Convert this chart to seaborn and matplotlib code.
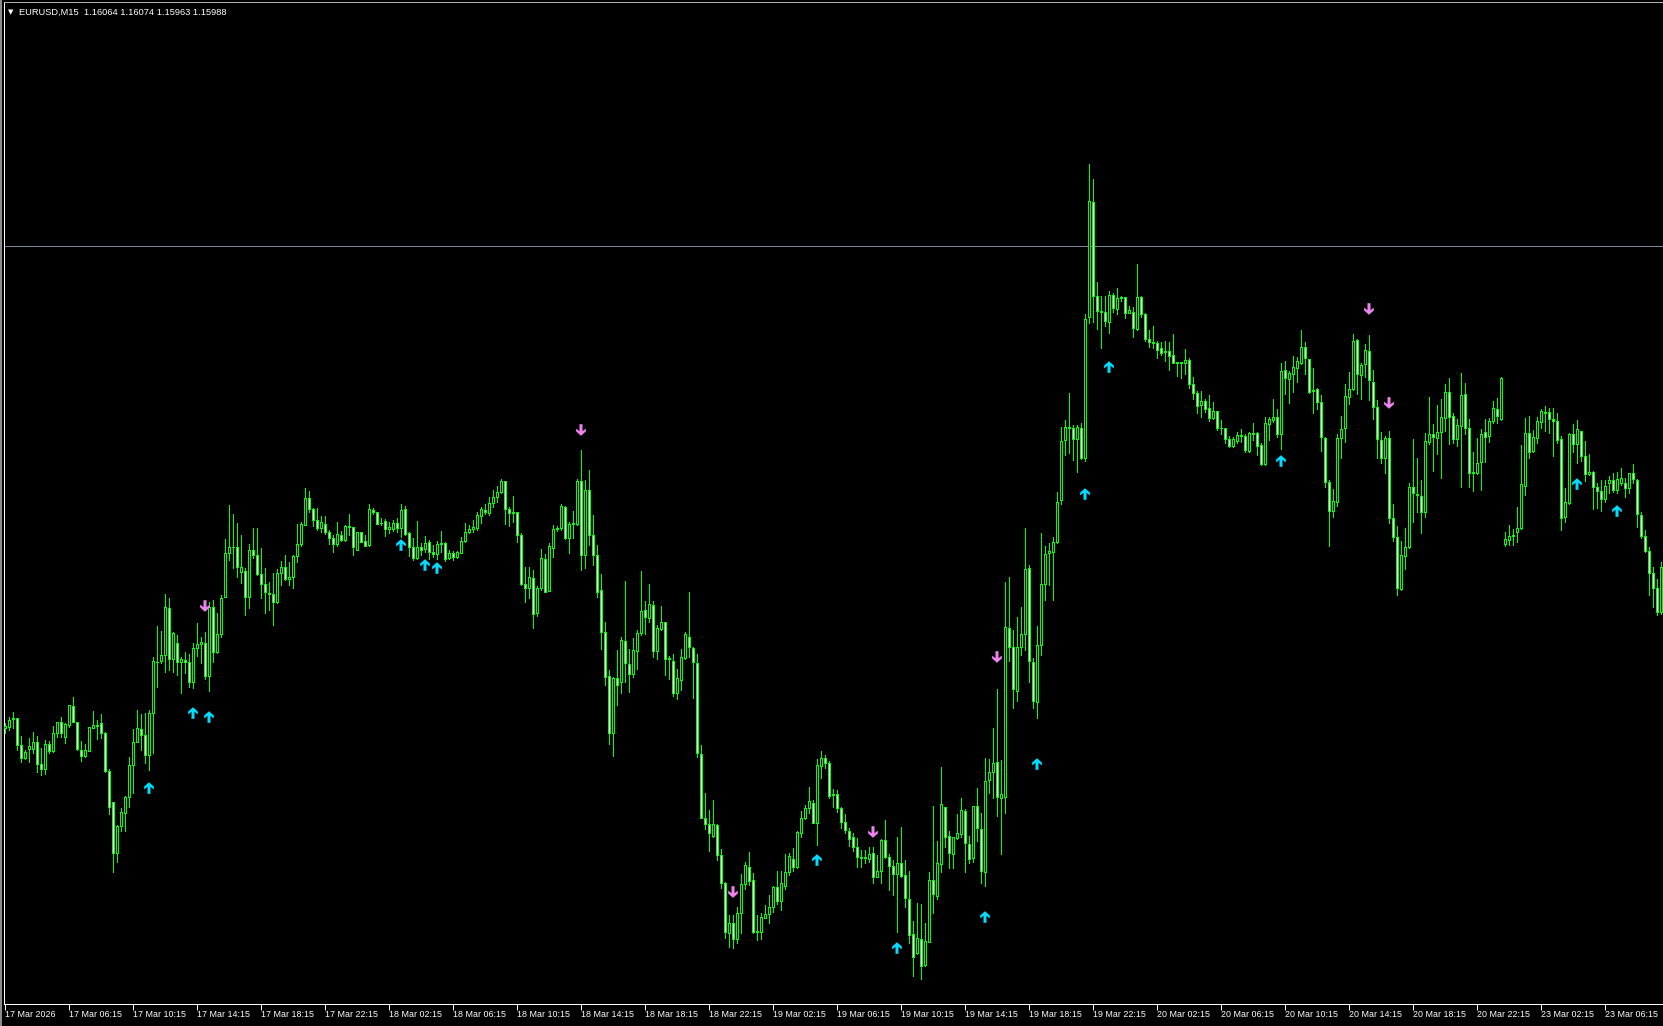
import numpy as np
import pandas as pd
import matplotlib
matplotlib.use("Agg")
import matplotlib.pyplot as plt
from matplotlib.path import Path
from matplotlib.lines import Line2D
import seaborn as sns

# Chart header
symbol = "EURUSD,M15"
header_ohlc = ["1.16064", "1.16074", "1.15963", "1.15988"]
bid_price = 1.15988

# M15 candles, prices in points (1 point = 0.00001)
opens = [
    114541, 114546, 114568, 114571, 114491, 114453, 114478, 114478, 114499, 114433,
    114418, 114493, 114474, 114526, 114559, 114514, 114551, 114608, 114561, 114476,
    114459, 114474, 114543, 114551, 114556, 114526, 114414, 114319, 114166, 114248,
    114288, 114334, 114430, 114501, 114538, 114521, 114460, 114586, 114741, 114743,
    114761, 114901, 114748, 114796, 114739, 114746, 114739, 114681, 114783, 114793,
    114798, 114699, 114904, 114769, 114823, 114936, 115066, 115084, 115086, 115011,
    115013, 114936, 115076, 115061, 115004, 114973, 114948, 114944, 114921, 115006,
    115024, 114988, 114994, 115058, 115094, 115151, 115231, 115199, 115166, 115141,
    115153, 115131, 115113, 115095, 115121, 115106, 115149, 115145, 115076, 115129,
    115103, 115091, 115196, 115189, 115156, 115163, 115139, 115139, 115156, 115141,
    115198, 115126, 115085, 115051, 115084, 115079, 115099, 115071, 115063, 115094,
    115098, 115053, 115068, 115056, 115068, 115104, 115129, 115139, 115143, 115179,
    115195, 115188, 115216, 115234, 115249, 115283, 115199, 115188, 115189, 115121,
    114974, 114963, 114991, 114886, 114963, 115049, 114954, 115083, 115138, 115141,
    115206, 115113, 115154, 115153, 115283, 115061, 115256, 115121, 115061, 114956,
    114831, 114698, 114526, 114691, 114681, 114803, 114733, 114703, 114774, 114826,
    114896, 114871, 114911, 114774, 114838, 114859, 114749, 114743, 114648, 114686,
    114751, 114816, 114781, 114736, 114463, 114271, 114253, 114218, 114251, 114161,
    114076, 113928, 113956, 113909, 113986, 114074, 114124, 114086, 113931, 113931,
    113973, 113983, 114004, 114064, 114024, 114069, 114111, 114148, 114124, 114226,
    114271, 114303, 114316, 114258, 114429, 114453, 114436, 114341, 114343, 114301,
    114261, 114233, 114214, 114186, 114154, 114152, 114148, 114166, 114096, 114114,
    114206, 114156, 114128, 114103, 114138, 114101, 114029, 113924, 113868, 113908,
    113831, 113901, 114086, 114039, 114133, 114304, 114218, 114163, 114211, 114223,
    114293, 114193, 114151, 114308, 114238, 114109, 114386, 114411, 114441, 114333,
    114336, 114841, 114785, 114653, 114786, 114825, 115022, 114739, 114619, 114792,
    114975, 115066, 115069, 115099, 115225, 115406, 115444, 115443, 115408, 115441,
    115352, 115776, 116119, 115839, 115792, 115791, 115761, 115841, 115799, 115831,
    115834, 115788, 115791, 115738, 115834, 115783, 115709, 115699, 115696, 115681,
    115671, 115673, 115661, 115636, 115639, 115636, 115646, 115573, 115548, 115511,
    115523, 115501, 115473, 115493, 115443, 115441, 115408, 115389, 115404, 115421,
    115418, 115373, 115426, 115426, 115391, 115334, 115453, 115466, 115474, 115423,
    115616, 115588, 115603, 115621, 115638, 115684, 115648, 115553, 115558, 115521,
    115413, 115281, 115193, 115219, 115411, 115441, 115534, 115559, 115706, 115601,
    115633, 115673, 115581, 115506, 115406, 115353, 115413, 115171, 115114, 114959,
    115059, 115084, 115264, 115244, 115239, 115189, 115401, 115424, 115413, 115431,
    115471, 115549, 115478, 115408, 115449, 115543, 115443, 115306, 115308, 115339,
    115429, 115418, 115464, 115500, 115469, 115093, 115106, 115118, 115131, 115141,
    115269, 115426, 115374, 115411, 115461, 115491, 115491, 115470, 115463, 115408,
    115176, 115216, 115423, 115393, 115434, 115359, 115303, 115311, 115266, 115253,
    115228, 115276, 115286, 115256, 115276, 115276, 115261, 115306, 115286, 115181,
    115119, 115074, 115006, 114961, 114891,
]
highs = [
    114556, 114576, 114591, 114571, 114518, 114476, 114511, 114531, 114518, 114481,
    114506, 114503, 114548, 114559, 114576, 114556, 114611, 114635, 114561, 114503,
    114494, 114546, 114593, 114566, 114584, 114531, 114418, 114319, 114251, 114301,
    114338, 114456, 114538, 114596, 114584, 114586, 114596, 114756, 114848, 114834,
    114943, 114933, 114829, 114821, 114756, 114771, 114763, 114796, 114856, 114816,
    114831, 114921, 114926, 114888, 114941, 115108, 115211, 115184, 115158, 115121,
    115021, 115093, 115141, 115141, 115083, 115023, 114981, 115006, 115019, 115043,
    115061, 115041, 115061, 115153, 115159, 115263, 115253, 115203, 115201, 115178,
    115178, 115136, 115121, 115161, 115133, 115151, 115184, 115145, 115131, 115131,
    115121, 115214, 115203, 115191, 115171, 115168, 115159, 115166, 115171, 115214,
    115208, 115131, 115111, 115163, 115098, 115118, 115106, 115091, 115103, 115133,
    115101, 115076, 115073, 115074, 115116, 115156, 115151, 115166, 115191, 115206,
    115213, 115236, 115256, 115269, 115289, 115283, 115206, 115238, 115191, 115126,
    115026, 115024, 115016, 114969, 115079, 115063, 115098, 115151, 115148, 115214,
    115208, 115159, 115193, 115289, 115376, 115286, 115316, 115181, 115091, 115004,
    114859, 114716, 114696, 114776, 114814, 114983, 114778, 114811, 114836, 115013,
    114922, 114974, 114923, 114851, 114908, 114861, 114759, 114764, 114718, 114780,
    114830, 114950, 114784, 114764, 114491, 114346, 114296, 114326, 114253, 114179,
    114081, 113981, 113981, 114006, 114104, 114139, 114169, 114106, 113981, 113986,
    114011, 114041, 114069, 114113, 114113, 114164, 114166, 114181, 114233, 114293,
    114311, 114364, 114326, 114448, 114473, 114461, 114443, 114359, 114356, 114304,
    114284, 114241, 114228, 114213, 114176, 114176, 114186, 114186, 114161, 114208,
    114266, 114164, 114146, 114216, 114246, 114146, 114114, 113964, 114018, 114014,
    113958, 114111, 114308, 114203, 114426, 114306, 114233, 114216, 114284, 114333,
    114298, 114218, 114309, 114363, 114288, 114453, 114449, 114543, 114659, 114446,
    114980, 114994, 114835, 114874, 114905, 115142, 115031, 114752, 114847, 115127,
    115088, 115097, 115114, 115249, 115444, 115466, 115546, 115451, 115451, 115456,
    115783, 116234, 116189, 115879, 115838, 115839, 115853, 115846, 115861, 115839,
    115834, 115809, 115804, 115934, 115839, 115786, 115736, 115748, 115703, 115701,
    115703, 115701, 115724, 115639, 115641, 115679, 115651, 115596, 115554, 115553,
    115528, 115541, 115521, 115493, 115466, 115443, 115418, 115416, 115431, 115438,
    115423, 115431, 115458, 115431, 115396, 115476, 115476, 115529, 115498, 115638,
    115644, 115614, 115658, 115656, 115736, 115701, 115648, 115623, 115563, 115541,
    115416, 115286, 115258, 115424, 115479, 115574, 115611, 115724, 115708, 115638,
    115694, 115721, 115616, 115526, 115431, 115419, 115433, 115213, 115148, 115103,
    115141, 115276, 115409, 115353, 115286, 115426, 115536, 115454, 115511, 115528,
    115574, 115591, 115488, 115468, 115606, 115576, 115468, 115369, 115411, 115438,
    115468, 115471, 115523, 115531, 115594, 115129, 115151, 115138, 115206, 115391,
    115473, 115478, 115436, 115476, 115499, 115508, 115501, 115501, 115486, 115418,
    115261, 115428, 115454, 115466, 115434, 115403, 115363, 115313, 115276, 115286,
    115286, 115298, 115306, 115309, 115321, 115291, 115308, 115333, 115288, 115189,
    115136, 115086, 115026, 114989, 115041,
]
lows = [
    114526, 114536, 114541, 114476, 114441, 114449, 114441, 114466, 114411, 114401,
    114404, 114466, 114470, 114516, 114516, 114498, 114546, 114561, 114476, 114444,
    114456, 114474, 114541, 114508, 114511, 114411, 114283, 114111, 114141, 114234,
    114234, 114306, 114346, 114501, 114476, 114438, 114416, 114466, 114666, 114736,
    114709, 114716, 114711, 114701, 114648, 114706, 114666, 114661, 114759, 114738,
    114688, 114654, 114741, 114766, 114816, 114936, 115046, 115021, 114994, 114976,
    114881, 114901, 115051, 115001, 114933, 114886, 114896, 114851, 114916, 114971,
    114986, 114971, 114963, 115041, 115089, 115151, 115191, 115149, 115136, 115129,
    115123, 115093, 115071, 115089, 115103, 115103, 115121, 115061, 115076, 115099,
    115089, 115088, 115184, 115154, 115151, 115119, 115126, 115133, 115131, 115114,
    115121, 115059, 115046, 115049, 115061, 115071, 115048, 115056, 115049, 115069,
    115044, 115049, 115046, 115051, 115066, 115101, 115126, 115131, 115136, 115156,
    115184, 115181, 115206, 115221, 115246, 115154, 115149, 115161, 115099, 114971,
    114921, 114933, 114843, 114878, 114956, 114951, 114953, 115056, 115134, 115136,
    115109, 115068, 115113, 115151, 115016, 115022, 115091, 115031, 114936, 114778,
    114671, 114494, 114458, 114611, 114648, 114679, 114651, 114696, 114719, 114821,
    114823, 114861, 114756, 114749, 114836, 114701, 114689, 114638, 114630, 114656,
    114748, 114754, 114633, 114456, 114271, 114238, 114174, 114214, 114146, 114061,
    113911, 113886, 113883, 113898, 113926, 114059, 114071, 113926, 113906, 113909,
    113971, 113958, 113991, 114014, 113996, 114058, 114101, 114114, 114121, 114216,
    114268, 114286, 114256, 114191, 114391, 114421, 114331, 114306, 114291, 114241,
    114226, 114189, 114174, 114126, 114126, 114136, 114141, 114078, 114094, 114078,
    114151, 114056, 114041, 113929, 114096, 114004, 113898, 113799, 113864, 113788,
    113829, 113899, 113988, 114029, 114109, 114186, 114121, 114121, 114208, 114214,
    114111, 114136, 114141, 114204, 114078, 114069, 114348, 114333, 114278, 114163,
    114286, 114744, 114602, 114622, 114761, 114777, 114681, 114602, 114572, 114761,
    114925, 114970, 114927, 115096, 115214, 115360, 115366, 115347, 115310, 115349,
    115344, 115758, 115761, 115739, 115683, 115749, 115728, 115791, 115783, 115824,
    115773, 115786, 115716, 115736, 115776, 115704, 115686, 115681, 115653, 115661,
    115644, 115616, 115636, 115598, 115593, 115604, 115563, 115530, 115486, 115476,
    115490, 115464, 115469, 115436, 115424, 115398, 115386, 115386, 115396, 115401,
    115371, 115371, 115406, 115361, 115331, 115331, 115406, 115461, 115416, 115378,
    115544, 115516, 115551, 115581, 115634, 115603, 115546, 115486, 115498, 115374,
    115266, 115089, 115176, 115208, 115351, 115401, 115514, 115556, 115543, 115529,
    115596, 115526, 115469, 115351, 115338, 115308, 115158, 115104, 114941, 114956,
    115018, 115083, 115161, 115189, 115128, 115176, 115393, 115313, 115364, 115293,
    115433, 115393, 115396, 115388, 115266, 115423, 115266, 115254, 115304, 115256,
    115341, 115401, 115458, 115458, 115466, 115089, 115091, 115091, 115101, 115139,
    115241, 115353, 115371, 115396, 115441, 115434, 115426, 115359, 115398, 115136,
    115159, 115214, 115371, 115336, 115344, 115284, 115301, 115199, 115201, 115193,
    115221, 115248, 115251, 115248, 115271, 115236, 115248, 115276, 115146, 115113,
    115071, 114941, 114906, 114881, 114884,
]
closes = [
    114549, 114566, 114571, 114491, 114453, 114469, 114488, 114499, 114433, 114418,
    114493, 114474, 114526, 114559, 114526, 114553, 114610, 114561, 114478, 114459,
    114476, 114544, 114551, 114549, 114526, 114414, 114304, 114166, 114248, 114291,
    114336, 114430, 114501, 114541, 114521, 114460, 114586, 114743, 114739, 114761,
    114904, 114748, 114826, 114739, 114748, 114741, 114681, 114781, 114793, 114799,
    114699, 114904, 114769, 114823, 114931, 115066, 115084, 115086, 115024, 115024,
    114936, 115076, 115061, 115004, 114973, 114949, 114944, 114921, 115006, 115024,
    114988, 114994, 115058, 115093, 115154, 115231, 115199, 115166, 115143, 115161,
    115131, 115113, 115095, 115123, 115106, 115149, 115146, 115086, 115129, 115101,
    115089, 115199, 115191, 115154, 115158, 115139, 115144, 115157, 115141, 115195,
    115124, 115086, 115053, 115084, 115076, 115098, 115071, 115065, 115094, 115095,
    115049, 115068, 115055, 115070, 115104, 115129, 115139, 115145, 115181, 115198,
    115191, 115216, 115234, 115249, 115283, 115199, 115188, 115191, 115121, 114973,
    114963, 114994, 114884, 114963, 115051, 114951, 115088, 115138, 115141, 115209,
    115111, 115154, 115156, 115283, 115061, 115256, 115121, 115061, 114951, 114831,
    114696, 114526, 114691, 114671, 114806, 114736, 114704, 114776, 114828, 114893,
    114874, 114913, 114774, 114841, 114861, 114749, 114753, 114646, 114691, 114756,
    114823, 114784, 114739, 114466, 114273, 114253, 114226, 114253, 114161, 114078,
    113931, 113956, 113909, 113986, 114074, 114131, 114083, 113931, 113933, 113974,
    113983, 114004, 114064, 114024, 114076, 114109, 114158, 114124, 114229, 114271,
    114301, 114323, 114258, 114431, 114453, 114436, 114339, 114345, 114301, 114261,
    114236, 114209, 114186, 114156, 114152, 114154, 114163, 114096, 114113, 114206,
    114154, 114129, 114103, 114136, 114099, 114031, 113921, 113856, 113913, 113829,
    113903, 114086, 114044, 114136, 114314, 114216, 114166, 114214, 114226, 114296,
    114196, 114148, 114308, 114241, 114114, 114384, 114411, 114436, 114336, 114343,
    114846, 114785, 114658, 114785, 114825, 115018, 114744, 114624, 114792, 114974,
    115064, 115072, 115099, 115219, 115402, 115444, 115441, 115408, 115444, 115352,
    115768, 116123, 115839, 115794, 115789, 115763, 115841, 115801, 115831, 115834,
    115788, 115796, 115741, 115834, 115783, 115709, 115699, 115696, 115676, 115668,
    115673, 115659, 115636, 115639, 115638, 115646, 115573, 115548, 115509, 115523,
    115499, 115473, 115493, 115443, 115441, 115408, 115389, 115409, 115421, 115419,
    115376, 115426, 115425, 115389, 115333, 115456, 115468, 115476, 115424, 115613,
    115591, 115606, 115624, 115644, 115684, 115651, 115549, 115555, 115519, 115414,
    115279, 115193, 115223, 115413, 115438, 115538, 115559, 115704, 115603, 115631,
    115676, 115586, 115504, 115408, 115353, 115413, 115173, 115116, 114963, 115061,
    115084, 115264, 115246, 115240, 115189, 115403, 115423, 115416, 115429, 115474,
    115549, 115476, 115408, 115451, 115541, 115441, 115306, 115310, 115336, 115423,
    115416, 115464, 115501, 115479, 115591, 115108, 115118, 115120, 115141, 115273,
    115426, 115371, 115414, 115463, 115493, 115487, 115469, 115464, 115406, 115171,
    115219, 115424, 115393, 115439, 115359, 115303, 115311, 115266, 115253, 115228,
    115268, 115286, 115256, 115289, 115291, 115261, 115306, 115288, 115183, 115119,
    115074, 115006, 114961, 114891, 115024,
]

# signal arrows: bar index and price (points)
up_bars = [36, 47, 51, 99, 105, 108, 203, 223, 245, 258, 270, 276, 319, 393, 403]
up_prices = [114362, 114587, 114575, 115091, 115031, 115022, 114146, 113882, 113975,
             114434, 115244, 115625, 115343, 115274, 115193]
down_bars = [50, 144, 182, 217, 248, 341, 346]
down_prices = [114908, 115436, 114050, 114230, 114755, 115799, 115517]

# time axis labels, one every 16 bars (4 hours of M15)
tick_labels = ["17 Mar 2026", "17 Mar 06:15", "17 Mar 10:15", "17 Mar 14:15", "17 Mar 18:15",
               "17 Mar 22:15", "18 Mar 02:15", "18 Mar 06:15", "18 Mar 10:15", "18 Mar 14:15",
               "18 Mar 18:15", "18 Mar 22:15", "19 Mar 02:15", "19 Mar 06:15", "19 Mar 10:15",
               "19 Mar 14:15", "19 Mar 18:15", "19 Mar 22:15", "20 Mar 02:15", "20 Mar 06:15",
               "20 Mar 10:15", "20 Mar 14:15", "20 Mar 18:15", "20 Mar 22:15", "23 Mar 02:15",
               "23 Mar 06:15"]
bars_per_label = 16

assert len(opens) == len(highs) == len(lows) == len(closes), (len(opens), len(highs), len(lows), len(closes))

LIME = "#00FF00"
sns.set_theme(style="dark", rc={"axes.facecolor": "black", "figure.facecolor": "black"})
plt.rcParams['font.family'] = ['Liberation Sans', 'DejaVu Sans']

df = pd.DataFrame({"open": opens, "high": highs, "low": lows, "close": closes}) / 1e5
df["bar"] = np.arange(len(df))
bull = df["close"] >= df["open"]

W, H = 1663, 1026
fig = plt.figure(figsize=(W / 100, H / 100), dpi=100, facecolor="black")
ax = fig.add_axes([4 / W, 22 / H, 1659 / W, 1002 / H])
ax.set_facecolor("black")
ax.grid(False)

# wicks then bodies
ax.vlines(df["bar"], df["low"], df["high"], color=LIME, lw=0.72, antialiased=False, zorder=2)
body_bottom = df[["open", "close"]].min(axis=1)
body_height = (df["close"] - df["open"]).abs().clip(lower=0.00002)
ax.bar(df["bar"], body_height, bottom=body_bottom, width=0.5,
       color=np.where(bull, "black", "white"), edgecolor=LIME, linewidth=0.72,
       antialiased=False, zorder=3)

# bid line
ax.axhline(bid_price, color="#778899", lw=0.72, zorder=1)

# arrow markers
up_arrow = Path([(-0.13, -0.5), (0.13, -0.5), (0.13, 0.1), (0.42, -0.12), (0.42, 0.12),
                 (0.0, 0.5), (-0.42, 0.12), (-0.42, -0.12), (-0.13, 0.1), (-0.13, -0.5)], closed=True)
down_arrow = Path([(x, -y) for x, y in up_arrow.vertices], closed=True)
sns.scatterplot(x=up_bars, y=np.array(up_prices) / 1e5, marker=up_arrow, s=70,
                color="#00DDFF", edgecolor="none", ax=ax, legend=False, zorder=5)
sns.scatterplot(x=down_bars, y=np.array(down_prices) / 1e5, marker=down_arrow, s=70,
                color="#EE82EE", edgecolor="none", ax=ax, legend=False, zorder=5)

ax.set_xlim(-0.25, 414.5)
ax.set_ylim(1.13714, 1.16720)
ax.set_xticks(np.arange(len(tick_labels)) * bars_per_label)
ax.set_xticklabels(tick_labels, ha="left")
ax.tick_params(axis="x", colors="white", direction="out", length=4, width=0.72,
               pad=0, labelsize=6.4, bottom=True)
ax.tick_params(axis="y", left=False, labelleft=False)
ax.set_xlabel("")
ax.set_ylabel("")
for side in ["left", "bottom"]:
    ax.spines[side].set_color("white")
    ax.spines[side].set_linewidth(0.72)
ax.spines["right"].set_visible(False)
ax.spines["top"].set_color("#b0b0b0")
ax.spines["top"].set_linewidth(0.72)

# header
fig.text(11 / W, 1 - 12 / H, "▼", color="white", fontsize=5, ha="center", va="center",
         family="DejaVu Sans")
fig.text(19 / W, 1 - 12 / H, f"{symbol}  {' '.join(header_ohlc)}", color="white",
         fontsize=6.7, ha="left", va="center")

# window frame
fig.add_artist(Line2D([0, 1], [0.5 / H, 0.5 / H], color="#909090", lw=0.72, transform=fig.transFigure))
fig.add_artist(Line2D([1 / W, 1 / W], [0, 1], color="#909090", lw=1.4, transform=fig.transFigure))

fig.savefig("out.png", dpi=100, facecolor="black")
